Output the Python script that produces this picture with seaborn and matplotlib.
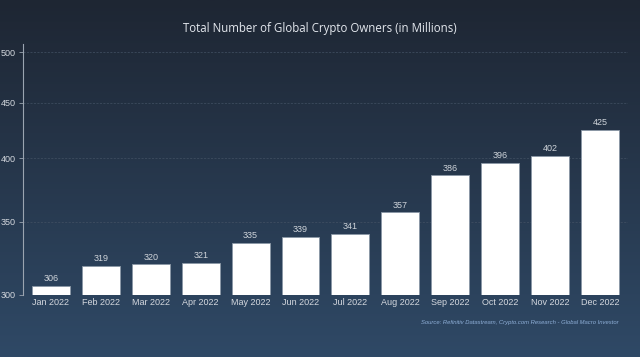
import numpy as np
import pandas as pd
import matplotlib
matplotlib.use("Agg")
import matplotlib.pyplot as plt
from matplotlib.colors import LinearSegmentedColormap
import seaborn as sns

months = ["Jan 2022", "Feb 2022", "Mar 2022", "Apr 2022", "May 2022", "Jun 2022",
          "Jul 2022", "Aug 2022", "Sep 2022", "Oct 2022", "Nov 2022", "Dec 2022"]
owners = [306, 319, 320, 321, 335, 339, 341, 357, 386, 396, 402, 425]
y_ticks = [300, 350, 400, 450, 500]

df = pd.DataFrame({"month": months, "owners": owners})

sns.set_style("dark")
plt.rcParams["font.family"] = ["Liberation Sans", "DejaVu Sans"]

fig = plt.figure(figsize=(6.4, 3.57), dpi=100)

# background gradient, dark on top -> lighter blue at the bottom
bg = fig.add_axes([0, 0, 1, 1], zorder=-1)
cmap = LinearSegmentedColormap.from_list("bg", ["#1e2633", "#2f4966"])
bg.imshow(np.linspace(0, 1, 256).reshape(-1, 1), cmap=cmap, aspect="auto",
          extent=[0, 1, 0, 1])
bg.axis("off")

ax = fig.add_axes([0.036, 0.1737, 0.945, 0.703])
ax.set_facecolor("none")

sns.barplot(data=df, x="month", y="owners", color="white", width=0.76,
            edgecolor="#8a97a6", linewidth=0.6, saturation=1, ax=ax)

ax.set_yscale("log")
ax.set_ylim(300, 509)
ax.set_xlim(-0.56, 11.56)
ax.set_yticks(y_ticks)
ax.set_yticklabels([str(t) for t in y_ticks])
ax.minorticks_off()

ax.bar_label(ax.containers[0], padding=2, color="#cfd4da", fontsize=6.5)

for t in y_ticks:
    ax.axhline(t, color="#435164", linestyle=(0, (3, 2)), linewidth=0.5, zorder=0)

for s in ["top", "right", "bottom"]:
    ax.spines[s].set_visible(False)
ax.spines["left"].set_color("#9aa4b0")
ax.spines["left"].set_linewidth(0.8)

ax.tick_params(axis="y", colors="#d4d8de", labelsize=6.5, length=3, width=0.6,
               left=True, pad=2)
ax.tick_params(axis="y", which="both", color="#9aa4b0")
ax.tick_params(axis="x", colors="#d4d8de", labelsize=6.5, length=0, pad=2)
ax.set_xlabel("")
ax.set_ylabel("")
ax.grid(False)

fig.text(0.5, 0.921, "Total Number of Global Crypto Owners (in Millions)",
         ha="center", va="center", color="#e4e8ee", fontsize=8.3,
         family=["Open Sans", "DejaVu Sans"])
fig.text(0.966, 0.097, "Source: Refinitiv Datastream, Crypto.com Research - Global Macro Investor",
         ha="right", va="center", color="#8fb0d8", fontsize=4.2, style="italic")

fig.savefig("out.png", dpi=100)
